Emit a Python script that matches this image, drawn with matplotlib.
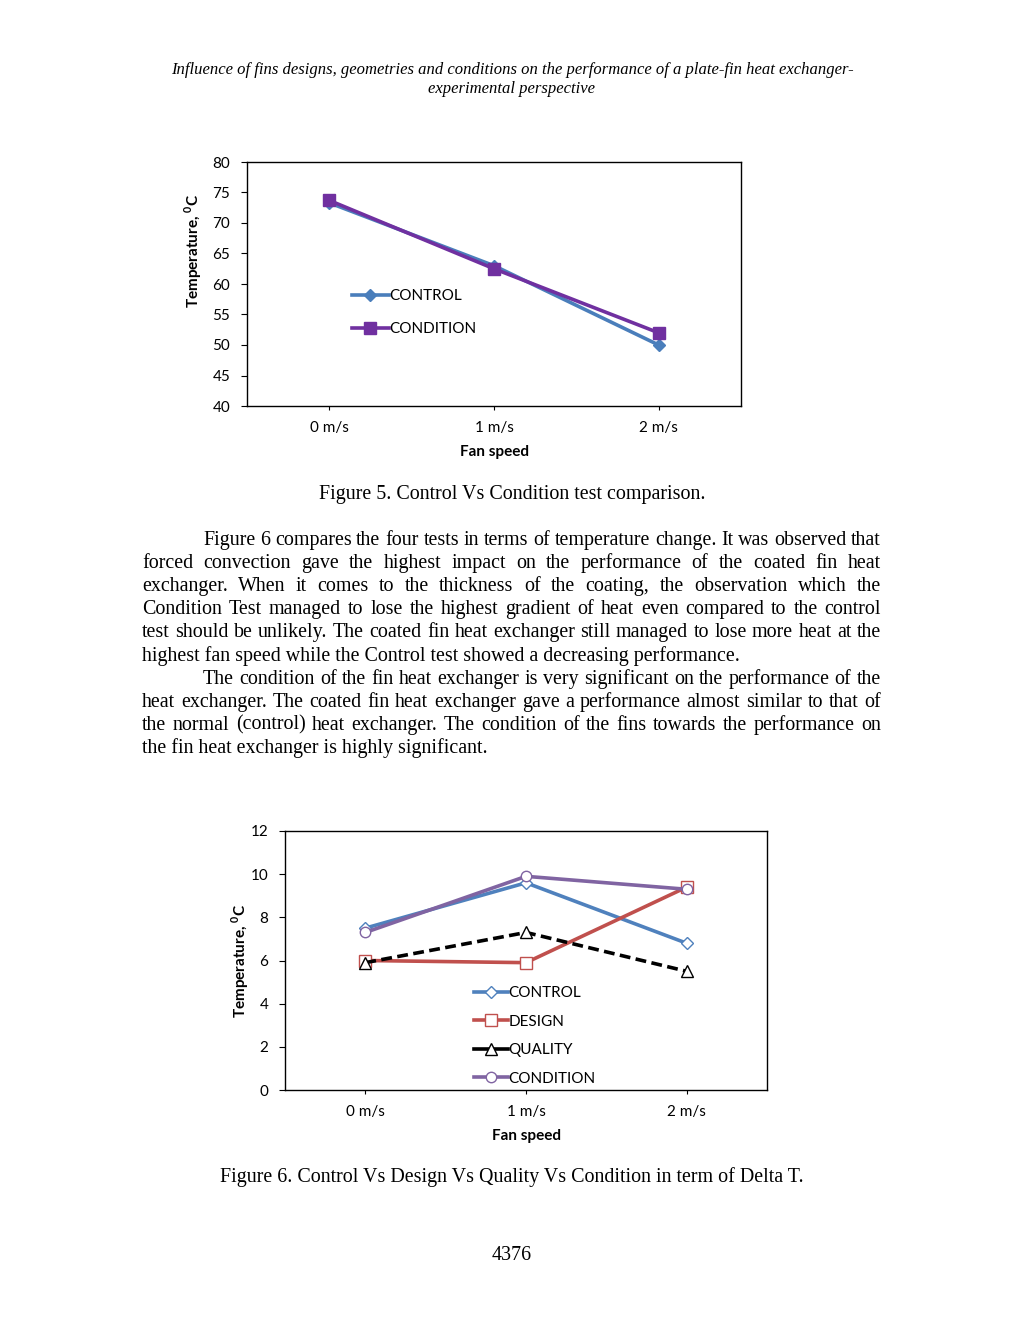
import matplotlib
matplotlib.use("Agg")
import matplotlib.pyplot as plt
from matplotlib.lines import Line2D

# ---- data ----
speeds = ["0 m/s", "1 m/s", "2 m/s"]

# Figure 5: temperature
fig5_control = [73.3, 63.0, 50.0]
fig5_condition = [73.7, 62.5, 52.0]

# Figure 6: delta T
fig6_control = [7.5, 9.6, 6.8]
fig6_design = [6.0, 5.9, 9.4]
fig6_quality = [5.9, 7.3, 5.5]
fig6_condition = [7.3, 9.9, 9.3]

header = ["Influence of fins designs, geometries and conditions on the performance of a plate-fin heat exchanger-",
          "experimental perspective"]

body = [
    (True, True, "Figure 6 compares the four tests in terms of temperature change. It was observed that"),
    (False, True, "forced convection gave the highest impact on the performance of the coated fin heat"),
    (False, True, "exchanger. When it comes to the thickness of the coating, the observation which the"),
    (False, True, "Condition Test managed to lose the highest gradient of heat even compared to the control"),
    (False, True, "test should be unlikely. The coated fin heat exchanger still managed to lose more heat at the"),
    (False, False, "highest fan speed while the Control test showed a decreasing performance."),
    (True, True, "The condition of the fin heat exchanger is very significant on the performance of the"),
    (False, True, "heat exchanger. The coated fin heat exchanger gave a performance almost similar to that of"),
    (False, True, "the normal (control) heat exchanger. The condition of the fins towards the performance on"),
    (False, False, "the fin heat exchanger is highly significant."),
]

W, H = 1024, 1325
chart_font = "Lato"
serif = "Liberation Serif"
plt.rcParams["mathtext.fontset"] = "custom"
plt.rcParams["mathtext.rm"] = chart_font
plt.rcParams["mathtext.bf"] = chart_font + ":bold"

fig = plt.figure(figsize=(W / 100, H / 100), dpi=100)
renderer = fig.canvas.get_renderer()


def fx(px):
    return px / W


def fy(py):
    return 1 - py / H


def text_width(s, size):
    t = fig.text(0, 0, s, fontsize=size, family=serif)
    w = t.get_window_extent(renderer).width
    t.remove()
    return w


def justified_line(s, x0, x1, y, size, justify):
    words = s.split(" ")
    if not justify:
        fig.text(fx(x0), fy(y), s, fontsize=size, family=serif, va="baseline", ha="left")
        return
    widths = [text_width(wd, size) for wd in words]
    gap = (x1 - x0 - sum(widths)) / (len(words) - 1)
    x = x0
    for wd, wdt in zip(words, widths):
        fig.text(fx(x), fy(y), wd, fontsize=size, family=serif, va="baseline", ha="left")
        x += wdt + gap


# header
fig.text(0.5, fy(70), header[0], fontsize=12, family=serif, style="italic", ha="center", va="center")
fig.text(0.5, fy(89), header[1], fontsize=12, family=serif, style="italic", ha="center", va="center")


def style_axes(ax, ylim, yticks, label_xy):
    ax.set_xlim(-0.5, 2.5)
    ax.set_ylim(*ylim)
    ax.set_yticks(yticks)
    ax.set_xticks(range(len(speeds)))
    ax.set_xticklabels(speeds)
    for sp in ax.spines.values():
        sp.set_linewidth(1.0)
        sp.set_color("black")
    ax.tick_params(axis="y", direction="out", length=4, width=0.8, pad=8, labelsize=11)
    ax.tick_params(axis="x", direction="out", length=3, width=0.8, pad=8, labelsize=11)
    for lab in ax.get_xticklabels() + ax.get_yticklabels():
        lab.set_family(chart_font)
    ax.set_xlabel("Fan speed", fontsize=11, fontweight="bold", family=chart_font, labelpad=7)
    ax.set_ylabel(r"Temperature, ${}^{\mathbf{0}}$C", fontsize=11, fontweight="bold", family=chart_font)
    ax.yaxis.set_label_coords(*label_xy)


# ---- Figure 5 chart ----
ax1 = fig.add_axes([fx(247), fy(406), fx(741 - 247), (406 - 162) / H])
x = range(len(speeds))
ax1.plot(x, fig5_control, color="#4A7EBB", lw=2.6, marker="D", ms=6.5, label="CONTROL")
ax1.plot(x, fig5_condition, color="#7030A0", lw=2.6, marker="s", ms=8, label="CONDITION")
style_axes(ax1, (40, 80), range(40, 81, 5), (-0.087, 0.635))
ax1.legend(loc="upper left", bbox_to_anchor=(0.2, 0.503), frameon=False, handlelength=2.4,
           handletextpad=0.05, labelspacing=1.25, borderaxespad=0,
           prop={"family": chart_font, "size": 11})

fig.text(0.5, fy(494), "Figure 5. Control Vs Condition test comparison.", fontsize=14.4,
         family=serif, ha="center", va="center")

# ---- body text ----
y = 545
for indent, just, line in body:
    x0 = 203 if indent else 142
    justified_line(line, x0, 881, y, 14.4, just)
    y += 23.1

# ---- Figure 6 chart ----
ax2 = fig.add_axes([fx(285), fy(1090), fx(767 - 285), (1090 - 831) / H])
ax2.plot(x, fig6_control, color="#4F81BD", lw=2.6, marker="D", ms=6, mfc="white", mec="#4F81BD",
         mew=1.0, label="CONTROL")
ax2.plot(x, fig6_design, color="#C0504D", lw=2.6, marker="s", ms=9, mfc="white", mec="#C0504D",
         mew=1.0, label="DESIGN")
ax2.plot(x, fig6_quality, color="black", lw=2.6, ls=(0, (3, 1.5)), marker="^", ms=9, mfc="white",
         mec="black", mew=1.0, label="QUALITY")
ax2.plot(x, fig6_condition, color="#8064A2", lw=2.6, marker="o", ms=7.5, mfc="white", mec="#8064A2",
         mew=1.0, label="CONDITION")
style_axes(ax2, (0, 12), range(0, 13, 2), (-0.0705, 0.498))

# legend: quality handle drawn solid, as in the original
handles, labels = ax2.get_legend_handles_labels()
handles[2] = Line2D([], [], color="black", lw=2.6, marker="^", ms=9, mfc="white", mec="black", mew=1.0)
ax2.legend(handles, labels, loc="upper left", bbox_to_anchor=(0.38, 0.425), frameon=False,
           handlelength=2.2, handletextpad=0.05, labelspacing=0.95, borderaxespad=0,
           prop={"family": chart_font, "size": 11})

fig.text(0.5, fy(1177), "Figure 6. Control Vs Design Vs Quality Vs Condition in term of Delta T.",
         fontsize=14.4, family=serif, ha="center", va="center")
fig.text(0.5, fy(1255), "4376", fontsize=14.4, family=serif, ha="center", va="center")

fig.savefig("out.png", dpi=100)
